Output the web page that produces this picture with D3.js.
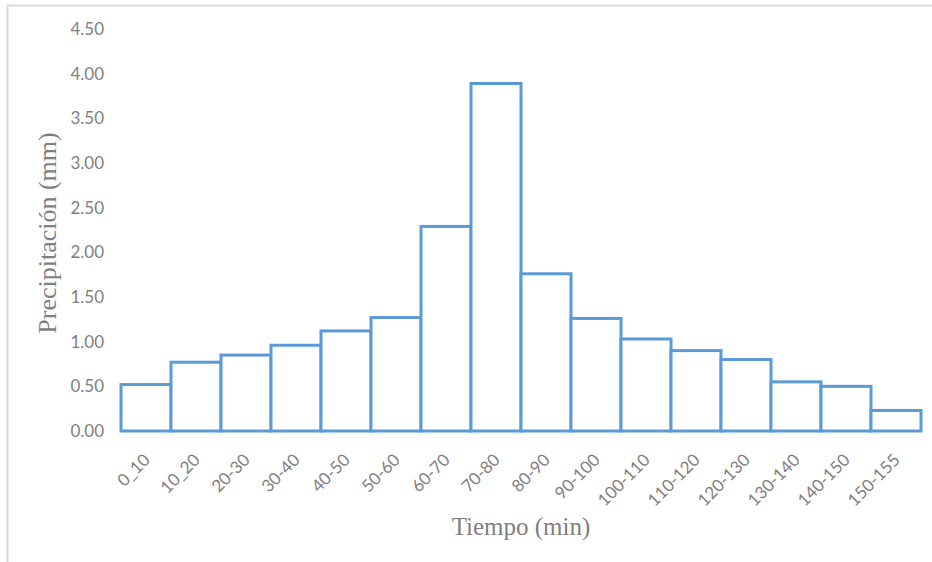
<!DOCTYPE html>
<html>
<head>
<meta charset="utf-8">
<script src="https://cdn.jsdelivr.net/npm/d3@7"></script>
<style>
  body { margin: 0; background: #fff; }
</style>
</head>
<body>
<svg width="932" height="562"></svg>
<script>
// intervalos de tiempo (min)
const intervalos = ["0_10", "10_20", "20-30", "30-40", "40-50", "50-60", "60-70", "70-80",
  "80-90", "90-100", "100-110", "110-120", "120-130", "130-140", "140-150", "150-155"];
// precipitación en mm
const precip = [0.52, 0.77, 0.85, 0.96, 1.12, 1.27, 2.29, 3.89,
  1.76, 1.26, 1.03, 0.90, 0.80, 0.55, 0.50, 0.23];
const yTicks = [0, 0.5, 1, 1.5, 2, 2.5, 3, 3.5, 4, 4.5];

const svg = d3.select("svg");
const gris = "#7f7f7f";

// marco del gráfico (solo arriba e izquierda se ven)
svg.append("line").attr("x1", 7).attr("x2", 932).attr("y1", 5.5).attr("y2", 5.5)
  .attr("stroke", "#d9d9d9").attr("stroke-width", 2);
svg.append("line").attr("x1", 7.5).attr("x2", 7.5).attr("y1", 5).attr("y2", 562)
  .attr("stroke", "#d9d9d9").attr("stroke-width", 2);

const x = d3.scaleBand()
    .domain(intervalos)
    .range([121, 921])
    .padding(0);

const y = d3.scaleLinear()
    .domain([0, 4.5])
    .range([431, 29]);

// eje y: solo etiquetas
const gy = svg.append("g")
    .attr("transform", "translate(104,0)")
    .call(d3.axisLeft(y).tickValues(yTicks).tickSize(0).tickPadding(0)
      .tickFormat(d3.format(".2f")));
gy.select(".domain").remove();
gy.selectAll("text")
    .attr("fill", gris)
    .attr("font-family", "Lato, 'Open Sans', sans-serif")
    .attr("font-size", 17);

// barras
svg.append("g").selectAll("rect")
  .data(precip)
  .enter().append("rect")
    .attr("x", (d, i) => x(intervalos[i]))
    .attr("y", d => y(d))
    .attr("width", x.bandwidth())
    .attr("height", d => y(0) - y(d))
    .attr("fill", "#fff")
    .attr("stroke", "#5b9bd5")
    .attr("stroke-width", 3);

// eje x: etiquetas rotadas
const gx = svg.append("g")
    .attr("transform", "translate(0,431)")
    .call(d3.axisBottom(x).tickSize(0).tickPadding(0));
gx.select(".domain").remove();
gx.selectAll("text")
    .attr("fill", gris)
    .attr("font-family", "Lato, 'Open Sans', sans-serif")
    .attr("font-size", 17)
    .attr("text-anchor", "end")
    .attr("x", 0).attr("y", 0).attr("dy", 0)
    .attr("transform", "translate(5,30) rotate(-45)");

// títulos de ejes
svg.append("text")
    .attr("transform", "translate(56,233) rotate(-90)")
    .attr("text-anchor", "middle")
    .attr("fill", gris)
    .attr("font-family", "'Liberation Serif', 'Times New Roman', serif")
    .attr("font-size", 26)
    .text("Precipitación (mm)");

svg.append("text")
    .attr("x", 521)
    .attr("y", 535)
    .attr("text-anchor", "middle")
    .attr("fill", gris)
    .attr("font-family", "'Liberation Serif', 'Times New Roman', serif")
    .attr("font-size", 25)
    .text("Tiempo (min)");
</script>
</body>
</html>
